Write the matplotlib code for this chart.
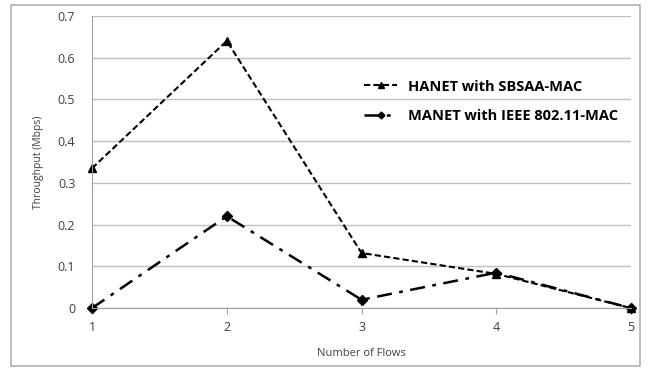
import matplotlib
matplotlib.use("Agg")
import matplotlib.pyplot as plt
from matplotlib.patches import Rectangle

# veriler
akis_sayisi = [1, 2, 3, 4, 5]
hanet = [0.335, 0.64, 0.132, 0.082, 0.0]
manet = [0.0, 0.22, 0.02, 0.085, 0.0]
y_ticks = [0, 0.1, 0.2, 0.3, 0.4, 0.5, 0.6, 0.7]
y_tick_labels = ["0", "0.1", "0.2", "0.3", "0.4", "0.5", "0.6", "0.7"]

plt.rcParams['font.family'] = ['Open Sans', 'DejaVu Sans']

fig = plt.figure(figsize=(6.48, 3.69), dpi=100)
ax = fig.add_axes([0.142, 0.165, 0.832, 0.792])

# dış çerçeve
fig.patches.append(Rectangle((0.017, 0.008), 0.97, 0.978, transform=fig.transFigure,
                             fill=False, edgecolor='#b0b0b0', linewidth=1.2))

ax.plot(akis_sayisi, hanet, color='black', linestyle=(0, (3, 1.5)), linewidth=1.5,
        marker='^', markersize=6, label='HANET with SBSAA-MAC')
ax.plot(akis_sayisi, manet, color='black', linestyle=(0, (6, 3, 1.5, 3)), linewidth=1.8,
        marker='D', markersize=5, label='MANET with IEEE 802.11-MAC')

ax.set_xlim(1, 5)
ax.set_ylim(0, 0.7)
ax.set_xticks(akis_sayisi)
ax.set_yticks(y_ticks)
ax.set_yticklabels(y_tick_labels)
ax.grid(axis='y', color='#c0c0c0', linewidth=1.0)
ax.set_axisbelow(True)
for s in ['top', 'right']:
    ax.spines[s].set_visible(False)
for s in ['left', 'bottom']:
    ax.spines[s].set_color('#a0a0a0')
ax.tick_params(axis='y', length=0, labelsize=9, labelcolor='#404040', pad=12)
ax.tick_params(axis='x', length=4, color='#a0a0a0', labelsize=9, labelcolor='#404040', pad=5)
for ln in ax.lines:
    ln.set_clip_on(False)

ax.set_xlabel('Number of Flows', fontsize=8, color='#404040', labelpad=10)
ax.set_ylabel('Throughput (Mbps)', fontsize=7.5, color='#404040', labelpad=10)

ax.legend(loc='center left', bbox_to_anchor=(0.48, 0.708), frameon=False,
          prop={'weight': 'bold', 'size': 10.5}, handlelength=2.3, labelspacing=1.05,
          markerscale=0.7, handletextpad=0.7)

fig.savefig('out.png', dpi=100)
